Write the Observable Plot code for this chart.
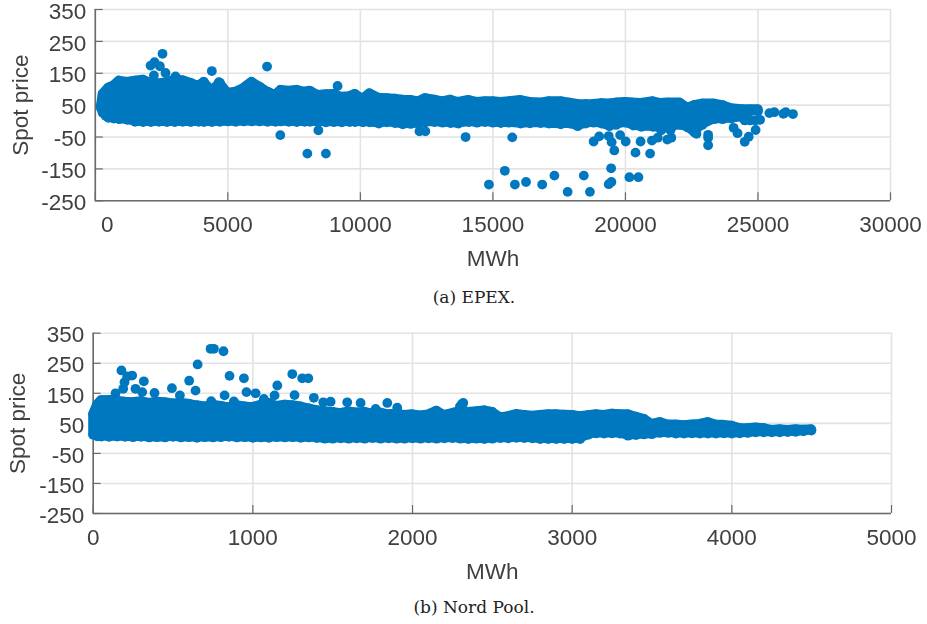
<!DOCTYPE html>
<html><head><meta charset="utf-8">
<script src="https://cdn.jsdelivr.net/npm/d3@7"></script>
<script src="https://cdn.jsdelivr.net/npm/@observablehq/plot@0.6"></script>
<style>
html,body{margin:0;padding:0;background:#fff}
svg{display:block;filter:blur(.35px)}
.cap{font-family:"DejaVu Serif",serif;font-size:17px;color:#222;text-align:center;width:927px;padding-left:21px;box-sizing:border-box}
</style></head><body><div id="root"></div>
<script>
const yTicks=[-250,-150,-50,50,150,250,350];
const aXTicks=[0,5000,10000,15000,20000,25000,30000];
const bXTicks=[0,1000,2000,3000,4000,5000];
const aBandMwh=[220,280,400,500,700,900,1200,1500,1800,2100,2400,2700,3000,3300,3600,3900,4100,4400,4700,5000,5300,5600,5900,6200,6500,6800,7000,7300,7600,7900,8100,8400,8700,9000,9300,9600,9800,10100,10350,10700,11000,11300,11600,11900,12200,12450,12800,13100,13400,13700,14090,14400,14700,15000,15300,15600,16050,16400,16800,17120,17560,17900,18200,18500,18800,19100,19400,19650,20000,20300,20600,21040,21300,21600,22050,22350,22600,22900,23350,23670,24000,24400,24700,25000];
const aBandHigh=[50,85,96,105,112,127,123,127,130,120,118,122,130,128,120,110,123,95,120,88,92,104,123,108,92,82,98,95,98,92,95,82,84,85,76,78,85,70,87,73,72,70,67,66,62,72,67,62,67,60,66,60,62,62,60,62,66,60,58,62,62,58,54,53,54,56,55,58,60,58,57,62,57,58,58,42,50,55,55,50,40,37,37,37];
const aBandLow=[40,26,16,10,8,6,4,-2,-3,-3,-2,-3,-3,-2,-3,-2,-3,-3,-2,-1,-2,-1,-1,-1,-2,-2,-1,-2,-3,-2,-2,-3,-4,-3,-4,-3,-3,-4,-4,-8,-4,-6,-10,-9,-8,-4,-3,-5,-6,-8,-3,-5,-3,-5,-6,-5,-8,-7,-6,-8,-10,-8,-16,-8,-5,-8,-16,-12,-5,-14,-18,-18,-22,-22,-12,-20,-35,-12,6,6,8,12,30,31];
const aOutMwh=[2536,2235,2085,2437,2210,2650,3027,4396,6480,4660,9140,6980,8415,8000,8700,12230,12450,13970,15730,14850,15450,15830,16250,16860,17320,17820,18430,18660,19370,19470,19460,20150,20490,18800,19010,19370,19480,19580,19800,20010,20380,20570,20930,21000,21220,21580,21730,21700,21350,22610,22680,23120,23120,23120,24080,24230,24500,24650,24910,24500,24700,24900,25080,25430,25620,25960,26050,26320];
const aOutPrice=[211,185,174,172,143,151,140,157,171,122,110,-44,-29,-102,-102,-32,-32,-50,-51,-199,-156,-199,-191,-199,-171,-222,-171,-222,-198,-191,-148,-176,-176,-64,-48,-47,-66,-92,-44,-64,-99,-64,-102,-61,-52,-58,-52,-29,-29,-35,-40,-43,-52,-76,-21,-38,-65,-49,-28,2,2,2,4,25,28,23,28,22];
const bBandMwh=[0,25,50,100,150,200,250,300,350,400,450,500,550,600,650,700,750,800,850,900,950,1000,1050,1100,1150,1200,1250,1300,1350,1400,1450,1500,1550,1600,1650,1700,1750,1800,1850,1900,1950,2000,2050,2100,2150,2200,2250,2300,2350,2400,2450,2500,2550,2600,2650,2700,2750,2800,2850,2900,2950,3000,3050,3100,3150,3200,3250,3300,3350,3400,3450,3500,3550,3600,3650,3700,3750,3800,3850,3900,3950,4000,4050,4100,4150,4200,4250,4300,4350,4400,4450,4498];
const bBandHigh=[80,112,127,128,125,122,120,124,118,122,120,116,118,115,110,106,112,108,103,110,106,104,112,118,108,112,110,106,100,94,90,88,84,90,86,88,82,86,80,82,78,80,76,80,92,78,84,92,88,90,93,88,70,74,81,78,75,78,80,80,79,78,74,77,80,78,82,80,80,72,65,48,54,46,46,44,46,48,54,46,45,42,34,34,36,34,28,30,28,30,29,30];
const bBandLow=[12,7,6,5,6,5,4,5,3,4,3,5,3,4,2,4,3,4,5,3,4,2,3,2,4,3,4,2,3,1,-1,-1,0,-1,0,-1,1,-1,0,-1,-1,0,-1,0,-1,0,1,-1,-2,-1,-2,-1,1,0,2,1,0,-2,-2,-2,-2,-2,-2,12,17,16,17,16,9,11,13,14,18,18,16,16,17,16,16,16,17,16,17,18,20,20,20,20,21,22,24,26];
const bOutMwh=[735,756,816,654,177,244,213,317,196,188,265,140,307,384,493,601,641,543,854,944,823,960,1017,739,881,1069,1136,1153,1247,1309,1347,1261,1382,1441,1487,1591,1675,1842,1904,1769,2297,2311,2318];
const bOutPrice=[298,298,290,246,226,209,206,190,187,165,165,150,154,151,167,192,159,143,208,200,143,154,150,124,123,131,143,176,214,200,200,144,135,120,122,120,118,118,102,98,106,115,118];

const blue="#0078BF", tickInk="#404040", axisInk="#6a6a6a", gridInk="#e3e3e3";
const font="'Liberation Sans',Arial,sans-serif";
function panel({height,marginTop,marginBottom,marginLeft,marginRight,xMax,xTicks,mwh,hi,lo,ox,oy,zeroShift,tickPad,labelX,labelY}){
  const band=mwh.map((m,i)=>({m,h:hi[i],l:lo[i]}));
  const out=ox.map((m,i)=>({m,p:oy[i]}));
  return Plot.plot({width:927,height,marginTop,marginBottom,marginLeft,marginRight,
    style:{fontFamily:font,fontSize:"22.5px",background:"transparent",overflow:"visible"},
    x:{domain:[0,xMax],label:null},y:{domain:[-250,350],label:null},
    marks:[
      Plot.gridX(xTicks,{stroke:gridInk,strokeWidth:1.6,strokeOpacity:1}),
      Plot.gridY(yTicks,{stroke:gridInk,strokeWidth:1.6,strokeOpacity:1}),
      Plot.ruleY([-250],{stroke:axisInk,strokeWidth:1.6}),
      Plot.ruleX([0],{stroke:axisInk,strokeWidth:1.6}),
      Plot.axisX({ticks:xTicks,anchor:"bottom",tickSize:-8,tickPadding:8+tickPad,stroke:axisInk,strokeWidth:1.2,fill:tickInk,label:null,
        tickFormat:d=>(zeroShift&&d===0)?"":String(d)}),
      Plot.axisY({ticks:yTicks,anchor:"left",tickSize:-8,tickPadding:18,stroke:axisInk,strokeWidth:1.2,label:null,tickFormat:()=>""}),
      Plot.text(yTicks,{y:d=>d,frameAnchor:"left",textAnchor:"end",dx:-9,dy:2,text:d=>String(d),fill:tickInk}),
      Plot.text(zeroShift?[0]:[],{x:d=>d,y:-250,dx:zeroShift,dy:23.7,text:d=>String(d),fill:tickInk}),
      Plot.text(["MWh"],{frameAnchor:"bottom",dy:labelX,text:d=>d,fill:tickInk,fontSize:22.5}),
      Plot.text(["Spot price"],{frameAnchor:"left",textAnchor:"middle",dx:labelY,rotate:-90,text:d=>d,fill:tickInk,fontSize:22.5}),
      Plot.areaY(band,{x:"m",y1:"l",y2:"h",fill:blue,stroke:blue,strokeWidth:9,strokeLinejoin:"round",curve:"linear"}),
      Plot.dot(band,{x:"m",y:"h",r:4.9,fill:blue}),
      Plot.dot(band,{x:"m",y:"l",r:4.9,fill:blue}),
      Plot.dot(out,{x:"m",y:"p",r:4.9,fill:blue})
    ]});
}
const root=document.getElementById("root");
root.append(panel({height:272,marginTop:9,marginBottom:71.7,marginLeft:94.8,marginRight:37,xMax:30000,xTicks:aXTicks,mwh:aBandMwh,hi:aBandHigh,lo:aBandLow,ox:aOutMwh,oy:aOutPrice,zeroShift:12,tickPad:15.5,labelX:65,labelY:-75}));
const ca=document.createElement("div");ca.className="cap";ca.style.height="48px";ca.style.lineHeight="50px";ca.textContent="(a) EPEX.";root.append(ca);
root.append(panel({height:272,marginTop:12.7,marginBottom:79,marginLeft:92.7,marginRight:36,xMax:5000,xTicks:bXTicks,mwh:bBandMwh,hi:bBandHigh,lo:bBandLow,ox:bOutMwh,oy:bOutPrice,zeroShift:0,tickPad:16,labelX:65,labelY:-75}));
const cb=document.createElement("div");cb.className="cap";cb.style.height="32px";cb.style.lineHeight="30px";cb.textContent="(b) Nord Pool.";root.append(cb);
</script></body></html>
